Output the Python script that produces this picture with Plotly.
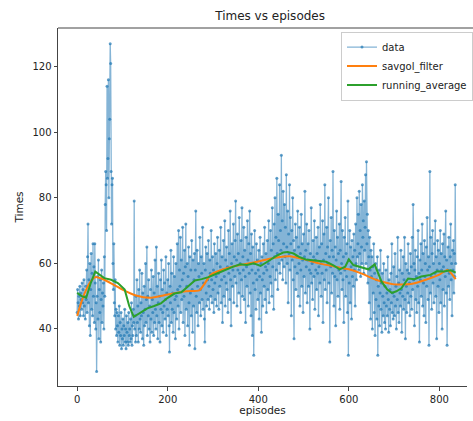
import plotly.graph_objects as go

# ---- data ----
data_times = [
    45, 52, 48, 43, 50, 47, 53, 44, 51, 49,
    46, 54, 48, 52, 44, 55, 47, 50, 43, 53,
    49, 58, 45, 62, 72, 48, 55, 41, 60, 38,
    52, 63, 46, 57, 44, 66, 50, 59, 42, 66,
    54, 40, 48, 27, 50, 56, 43, 61, 37, 52,
    45, 55, 36, 49, 58, 42, 51, 47, 54, 40,
    62, 50, 78, 88, 84, 70, 114, 86, 92, 116,
    80, 98, 104, 127, 121, 88, 72, 84, 86, 60,
    52, 66, 48, 44, 55, 40, 46, 38, 45, 41,
    36, 44, 39, 47, 35, 42, 38, 45, 34, 40,
    37, 43, 35, 41, 38, 46, 36, 40, 34, 44,
    39, 36, 42, 35, 45, 38, 40, 36, 43, 37,
    48, 35, 41, 38, 46, 42, 79, 40, 44, 36,
    50, 38, 55, 42, 47, 36, 52, 40, 58, 43,
    39, 48, 44, 57, 37, 51, 45, 35, 53, 41,
    46, 60, 42, 49, 65, 38, 50, 44, 55, 40,
    47, 36, 52, 43, 58, 39, 49, 45, 56, 38,
    51, 42, 61, 46, 40, 65, 44, 53, 37, 48,
    57, 42, 50, 36, 55, 46, 61, 41, 52, 45,
    39, 58, 47, 54, 43, 49, 62, 38, 51, 46,
    55, 44, 60, 41, 33, 53, 48, 64, 42, 57,
    46, 51, 39, 62, 45, 56, 49, 37, 60, 50,
    43, 66, 52, 47, 70, 40, 58, 53, 68, 45,
    61, 49, 55, 71, 42, 57, 50, 64, 38, 59,
    72, 46, 53, 60, 41, 56, 65, 48, 35, 62,
    51, 58, 44, 67, 52, 39, 61, 47, 55, 63,
    34, 58, 76, 50, 45, 64, 53, 41, 60, 56,
    48, 68, 52, 44, 62, 57, 49, 71, 46, 54,
    60, 43, 36, 58, 65, 51, 47, 63, 55, 49,
    67, 53, 46, 61, 57, 50, 70, 55, 48, 62,
    52, 58, 45, 66, 54, 49, 63, 56, 47, 60,
    68, 51, 57, 46, 64, 53, 59, 71, 48, 55,
    62, 42, 58, 67, 50, 56, 73, 47, 61, 54,
    65, 52, 59, 45, 70, 57, 63, 49, 76, 55,
    41, 60, 66, 53, 58, 72, 48, 62, 56, 67,
    79, 54, 61, 47, 69, 58, 63, 51, 74, 57,
    60, 45, 67, 55, 77, 50, 62, 58, 71, 49,
    64, 56, 42, 68, 59, 53, 73, 61, 47, 66,
    57, 76, 51, 63, 44, 69, 58, 38, 65, 54,
    32, 60, 70, 52, 57, 46, 66, 55, 61, 49,
    58, 64, 43, 56, 68, 51, 60, 39, 62, 55,
    47, 66, 57, 53, 71, 49, 59, 63, 45, 58,
    67, 52, 60, 73, 48, 61, 56, 70, 54, 64,
    50, 77, 59, 66, 46, 72, 62, 80, 55, 68,
    58, 86, 63, 52, 75, 67, 60, 84, 57, 70,
    64, 93, 61, 73, 55, 82, 66, 59, 78, 62,
    71, 54, 87, 65, 60, 76, 48, 69, 63, 84,
    58, 74, 66, 44, 70, 61, 80, 55, 67, 37,
    64, 59, 72, 52, 68, 62, 57, 76, 50, 65,
    60, 71, 47, 63, 58, 75, 53, 66, 61, 45,
    69, 56, 62, 82, 51, 64, 59, 72, 48, 61,
    66, 53, 70, 58, 40, 63, 57, 77, 54, 60,
    49, 67, 62, 56, 73, 46, 61, 58, 68, 52,
    63, 57, 71, 44, 59, 65, 54, 78, 60, 50,
    66, 57, 73, 42, 61, 69, 55, 84, 52, 63,
    58, 71, 48, 65, 60, 80, 54, 62, 36, 67,
    59, 74, 51, 64, 57, 88, 62, 47, 70, 56,
    65, 41, 61, 76, 55, 68, 50, 63, 58, 72,
    46, 64, 57, 85, 60, 52, 70, 55, 62, 42,
    68, 58, 74, 50, 63, 56, 66, 45, 79, 32,
    61, 54, 70, 48, 65, 59, 43, 67, 56, 62,
    53, 69, 58, 64, 47, 72, 60, 55, 80, 62,
    66, 75, 58, 82, 63, 70, 56, 78, 65, 60,
    84, 68, 73, 57, 79, 64, 71, 87, 60, 91,
    66, 75, 54, 70, 62, 48, 68, 58, 43, 64,
    56, 62, 40, 59, 51, 66, 45, 57, 38, 60,
    49, 55, 43, 62, 32, 53, 47, 58, 41, 51,
    64, 46, 54, 39, 57, 50, 44, 60, 48, 42,
    53, 40, 58, 47, 51, 44, 62, 49, 39, 55,
    46, 52, 41, 57, 48, 66, 45, 51, 43, 59,
    50, 44, 63, 47, 53, 40, 56, 49, 68, 45,
    54, 42, 58, 51, 47, 64, 52, 39, 57, 50,
    62, 46, 55, 68, 49, 37, 60, 53, 45, 58,
    51, 66, 48, 57, 54, 44, 63, 50, 59, 46,
    68, 52, 78, 55, 60, 41, 58, 64, 49, 56,
    45, 62, 53, 70, 48, 57, 36, 61, 55, 66,
    50, 58, 72, 47, 63, 54, 44, 67, 56, 60,
    42, 65, 53, 74, 58, 49, 62, 35, 59, 88,
    51, 68, 56, 46, 63, 70, 54, 60, 48, 66,
    57, 73, 50, 62, 37, 58, 67, 53, 64, 45,
    60, 55, 70, 48, 63, 58, 40, 66, 52, 59,
    69, 47, 62, 56, 76, 51, 61, 35, 58, 65,
    53, 68, 57, 49, 62, 72, 55, 60, 44, 64,
    58, 67, 51, 63, 56, 84, 60,
]
episodes = list(range(len(data_times)))

savgol_episodes = [0, 10, 20, 30, 40, 60, 80, 100, 130, 160, 200, 240, 270, 280,
                   295, 330, 360, 400, 440, 470, 500, 535, 570, 600, 630, 660,
                   700, 740, 770, 800, 818, 836]
savgol_values = [44, 48.5, 52, 54.5, 55.8, 55, 53.5, 52, 50.2, 49.5, 50.5, 51.5,
                 51.8, 53.5, 56.5, 58.5, 59.5, 60.6, 61.8, 62.2, 61.3, 60, 59,
                 58.2, 56.8, 55, 53.6, 53.8, 55, 56.6, 58, 55.2]

running_episodes = [0, 10, 20, 30, 40, 50, 60, 75, 90, 105, 115, 125, 140, 155,
                    170, 185, 200, 215, 230, 245, 260, 275, 290, 310, 330, 345,
                    360, 375, 390, 405, 420, 440, 455, 465, 478, 490, 505, 520,
                    535, 550, 565, 580, 592, 600, 610, 625, 643, 657, 672, 685,
                    695, 705, 716, 731, 745, 760, 780, 795, 810, 825, 836]
running_values = [51, 50, 49.5, 54, 57.5, 56.5, 55.5, 55, 54, 52, 47, 43.7, 45,
                  46.3, 47, 47.8, 49.5, 50.8, 51.2, 53, 54.8, 55.2, 55.8, 57,
                  58.2, 59, 59.7, 59.5, 60, 59.2, 60.5, 62.3, 63.3, 63.5, 63, 62,
                  61.2, 61, 60.8, 60.5, 59.5, 58.2, 59, 61.2, 59.5, 59, 58.2,
                  59.7, 54.5, 52, 51, 51.5, 52.4, 55.4, 55.2, 56, 56.5, 57.6,
                  57.5, 57.9, 57.2]

x_ticks = [0, 200, 400, 600, 800]
y_ticks = [40, 60, 80, 100, 120]

FONT = "DejaVu Sans"
AX = "#444444"

fig = go.Figure()
fig.add_trace(go.Scatter(
    x=episodes, y=data_times, mode="lines+markers", name="data",
    line=dict(color="rgba(31,119,180,0.55)", width=1.3),
    marker=dict(color="rgba(31,119,180,0.7)", size=3),
))
fig.add_trace(go.Scatter(
    x=savgol_episodes, y=savgol_values, mode="lines", name="savgol_filter",
    line=dict(color="#ff7f0e", width=2, shape="spline", smoothing=0.6),
))
fig.add_trace(go.Scatter(
    x=running_episodes, y=running_values, mode="lines", name="running_average",
    line=dict(color="#2ca02c", width=2),
))

fig.update_layout(
    width=473, height=421,
    margin=dict(l=58, r=0, t=28, b=35),
    paper_bgcolor="white", plot_bgcolor="white",
    font=dict(family=FONT, size=10, color="#222222"),
    title=dict(text="Times vs episodes", x=0.571, xref="container", xanchor="center",
               y=1 - 16 / 421, yref="container", yanchor="middle",
               font=dict(size=12, color="#222222")),
    showlegend=True,
    legend=dict(x=0.692, y=0.99, xanchor="left", yanchor="top",
                bgcolor="rgba(255,255,255,0.85)", bordercolor="#cccccc", borderwidth=1,
                font=dict(size=10, color="#222222"), tracegroupgap=0,
                itemwidth=30),
    xaxis=dict(range=[-42.3, 861], tickvals=x_ticks, showgrid=False, zeroline=False,
               showline=True, linecolor=AX, linewidth=1, ticks="outside",
               ticklen=3.5, tickcolor=AX,
               title=dict(text="episodes", standoff=2, font=dict(size=10.5))),
    yaxis=dict(range=[22.6, 131.8], tickvals=y_ticks, showgrid=False, zeroline=False,
               showline=True, linecolor=AX, linewidth=1, ticks="outside",
               ticklen=3.5, tickcolor=AX,
               title=dict(text="Times", standoff=6, font=dict(size=10.5))),
    shapes=[dict(type="line", xref="paper", yref="paper", x0=0, x1=1.05, y0=1, y1=1,
                 line=dict(color=AX, width=1))],
)

fig.write_html(
    "out.html",
    config={"displayModeBar": False},
    post_script="document.body.style.margin='0';document.body.style.overflow='hidden';",
)
